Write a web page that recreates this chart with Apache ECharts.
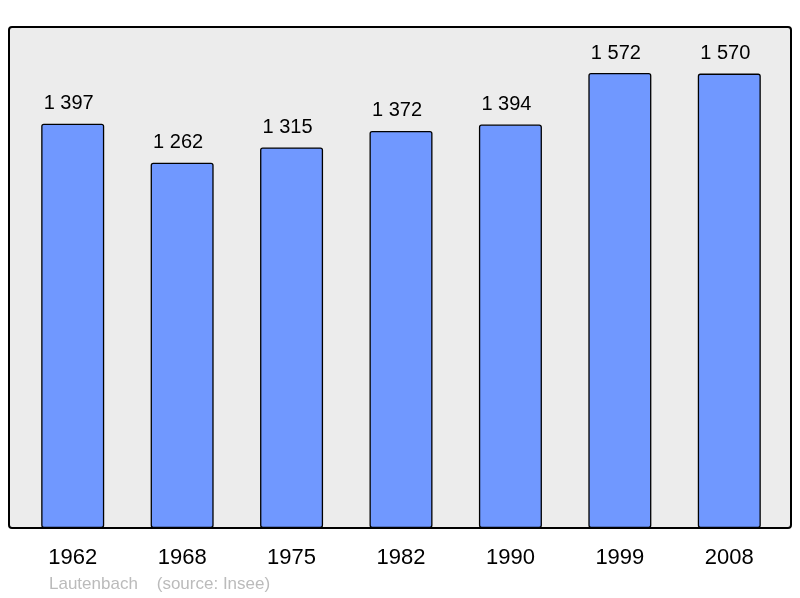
<!DOCTYPE html>
<html>
<head>
<meta charset="utf-8">
<script src="https://cdn.jsdelivr.net/npm/echarts@6/dist/echarts.min.js"></script>
<style>
  html, body { margin: 0; padding: 0; background: #fff; }
  #chart { width: 800px; height: 598px; }
</style>
</head>
<body>
<div id="chart"></div>
<script>
// années du recensement
const years = ['1962', '1968', '1975', '1982', '1990', '1999', '2008'];
// population
const population = [1397, 1262, 1315, 1372, 1394, 1572, 1570];
const footer = 'Lautenbach    (source: Insee)';

const myChart = echarts.init(document.getElementById('chart'));

// séparateur de milliers : espace
function fmt(v) {
  return String(v).replace(/\B(?=(\d{3})+(?!\d))/g, ' ');
}

const option = {
  animation: false,
  textStyle: { fontFamily: 'Liberation Sans, Arial, sans-serif' },
  grid: { left: 18, right: 16, top: 27, bottom: 70 },
  graphic: [
    {
      type: 'rect',
      z: -10,
      shape: { x: 9, y: 27, width: 782, height: 501, r: 3 },
      style: { fill: '#ececec', stroke: '#000', lineWidth: 2 }
    },
    {
      type: 'text',
      left: 49,
      top: 576,
      style: {
        text: footer,
        fill: '#bbbbbb',
        font: '17px Liberation Sans, Arial, sans-serif'
      }
    }
  ],
  xAxis: {
    type: 'category',
    data: years,
    axisLine: { show: false },
    axisTick: { show: false },
    axisLabel: { color: '#000', fontSize: 22, margin: 19 }
  },
  yAxis: {
    type: 'value',
    min: 0,
    max: 1731,
    show: false,
    splitLine: { show: false }
  },
  series: [{
    type: 'bar',
    data: population,
    barWidth: 63,
    itemStyle: {
      color: '#7098ff',
      borderColor: '#000',
      borderWidth: 1.3,
      borderRadius: 2
    },
    label: {
      show: true,
      position: 'top',
      distance: 10,
      offset: [-4, 0],
      color: '#000',
      fontSize: 20,
      formatter: p => fmt(p.value)
    }
  }]
};

myChart.setOption(option);
</script>
</body>
</html>
